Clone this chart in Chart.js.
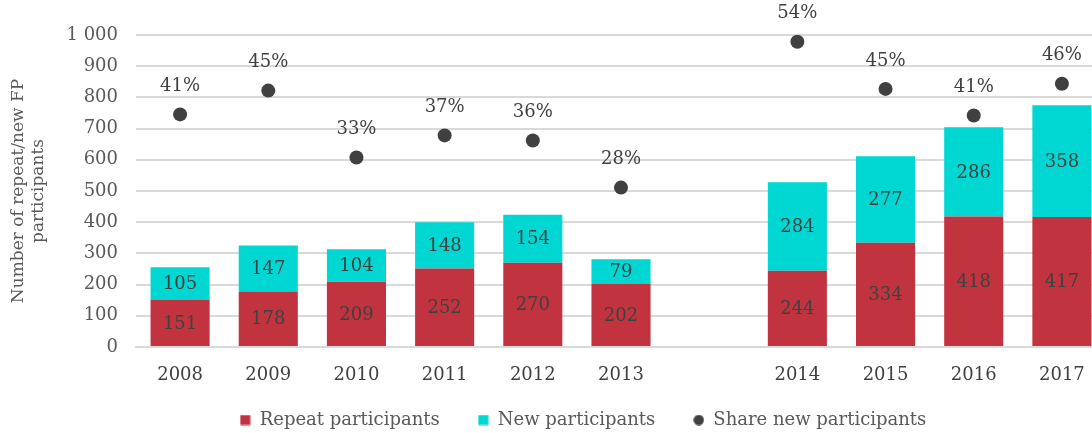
<!DOCTYPE html>
<html>
<head>
<meta charset="utf-8">
<script src="https://cdn.jsdelivr.net/npm/chart.js@4.4.1/dist/chart.umd.min.js"></script>
<style>
  html, body { margin: 0; padding: 0; background: #ffffff; overflow: hidden; }
  #wrap { width: 1092px; height: 433px; position: relative; overflow: hidden; }
  #c { position: absolute; left: 0; top: 0; }
</style>
</head>
<body>
<div id="wrap"><canvas id="c" width="1106" height="433"></canvas></div>
<script>
const categories = ['2008', '2009', '2010', '2011', '2012', '2013', '', '2014', '2015', '2016', '2017'];
const repeatParticipants = [151, 178, 209, 252, 270, 202, null, 244, 334, 418, 417];
const newParticipants = [105, 147, 104, 148, 154, 79, null, 284, 277, 286, 358];
const shareNewParticipants = [41.0, 45.2, 33.4, 37.3, 36.4, 28.1, null, 53.8, 45.5, 40.8, 46.4];
const shareLabels = ['41%', '45%', '33%', '37%', '36%', '28%', '', '54%', '45%', '41%', '46%'];
const yTitleLines = ['Number of repeat/new FP', 'participants'];

const FONT = "'DejaVu Serif', serif";
const TEXT = '#595959';
const LABEL = '#404040';
const RED = '#C1343F';
const CYAN = '#00D6D2';
const DOT = '#404040';

function fmt(v) {
  return String(v).replace(/\B(?=(\d{3})+(?!\d))/g, ' ');
}

function makeIcon(kind, color) {
  const c = document.createElement('canvas');
  c.width = 11; c.height = 11;
  const g = c.getContext('2d');
  g.fillStyle = color;
  if (kind === 'rect') {
    g.fillRect(0.5, 0.5, 10, 10);
  } else {
    g.beginPath();
    g.arc(5.5, 5.5, 5.2, 0, Math.PI * 2);
    g.fill();
  }
  return c;
}
const legendIcons = [makeIcon('rect', RED), makeIcon('rect', CYAN), makeIcon('circle', DOT)];

const labelPlugin = {
  id: 'valueLabels',
  afterDatasetsDraw(chart) {
    const ctx = chart.ctx;
    ctx.save();
    ctx.font = '18px ' + FONT;
    ctx.fillStyle = LABEL;
    ctx.textAlign = 'center';
    ctx.textBaseline = 'middle';
    [0, 1].forEach(di => {
      const meta = chart.getDatasetMeta(di);
      const data = chart.data.datasets[di].data;
      meta.data.forEach((el, i) => {
        if (data[i] == null) return;
        const p = el.getProps(['x', 'y', 'base'], true);
        ctx.fillText(fmt(data[i]), p.x, (p.y + p.base) / 2 + 1);
      });
    });
    const meta2 = chart.getDatasetMeta(2);
    meta2.data.forEach((el, i) => {
      if (shareNewParticipants[i] == null) return;
      const p = el.getProps(['x', 'y'], true);
      ctx.fillText(shareLabels[i], p.x, p.y - 28);
    });
    ctx.restore();
  }
};

const LEGEND_H = 34;
const LEGEND_SHIFT_X = 30;
const LEGEND_TOP = 373;
const legendFit = {
  id: 'legendFit',
  beforeInit(chart) {
    const lg = chart.legend;
    if (!lg) return;
    const orig = lg.fit;
    lg.fit = function () {
      orig.call(this);
      this.height = LEGEND_H;
    };
  },
  afterLayout(chart) {
    const lg = chart.legend;
    if (!lg) return;
    lg.left += LEGEND_SHIFT_X;
    lg.right += LEGEND_SHIFT_X;
    lg.top = LEGEND_TOP;
    lg.bottom = chart.height;
    lg.height = lg.bottom - lg.top;
  }
};

new Chart(document.getElementById('c'), {
  data: {
    labels: categories,
    datasets: [
      {
        type: 'bar',
        label: 'Repeat participants',
        data: repeatParticipants,
        backgroundColor: RED,
        barPercentage: 0.67,
        categoryPercentage: 1.0,
        stack: 's',
        order: 2
      },
      {
        type: 'bar',
        label: 'New participants',
        data: newParticipants,
        backgroundColor: CYAN,
        barPercentage: 0.67,
        categoryPercentage: 1.0,
        stack: 's',
        order: 2
      },
      {
        type: 'line',
        label: 'Share new participants',
        data: shareNewParticipants,
        yAxisID: 'y2',
        showLine: false,
        pointStyle: 'circle',
        pointRadius: 7,
        pointHoverRadius: 7,
        backgroundColor: DOT,
        borderColor: DOT,
        borderWidth: 0,
        pointBorderWidth: 0,
        order: 1
      }
    ]
  },
  options: {
    responsive: false,
    animation: false,
    devicePixelRatio: 1,
    layout: { autoPadding: false, padding: { top: 35, right: 0, left: 0, bottom: 4 } },
    plugins: {
      tooltip: { enabled: false },
      legend: {
        position: 'bottom',
        labels: {
          usePointStyle: true,
          boxWidth: 11,
          boxHeight: 11,
          padding: 38,
          color: TEXT,
          font: { family: FONT, size: 18 },
          sort: (a, b) => a.datasetIndex - b.datasetIndex,
          generateLabels(chart) {
            const items = Chart.defaults.plugins.legend.labels.generateLabels(chart);
            items.forEach(it => { it.pointStyle = legendIcons[it.datasetIndex]; });
            return items;
          }
        }
      }
    },
    scales: {
      x: {
        stacked: true,
        grid: { display: false },
        border: { display: true, color: '#d9d9d9', width: 2 },
        ticks: { color: LABEL, font: { family: FONT, size: 18 }, padding: 10, maxRotation: 0 },
        afterFit(scale) { scale.height = 48; }
      },
      y: {
        stacked: true,
        min: 0,
        max: 1000,
        grid: { color: '#d9d9d9', lineWidth: 2, drawTicks: false },
        border: { display: false },
        ticks: {
          stepSize: 100,
          color: TEXT,
          font: { family: FONT, size: 18 },
          padding: 18,
          callback: v => fmt(v)
        },
        title: {
          display: true,
          text: yTitleLines,
          color: TEXT,
          font: { family: FONT, size: 17, lineHeight: 1.2 },
          padding: { top: 8, bottom: 0 }
        },
        afterFit(scale) { scale.width = 136; }
      },
      y2: {
        display: false,
        min: 0,
        max: 55,
        position: 'right'
      }
    }
  },
  plugins: [labelPlugin, legendFit]
});
</script>
</body>
</html>
